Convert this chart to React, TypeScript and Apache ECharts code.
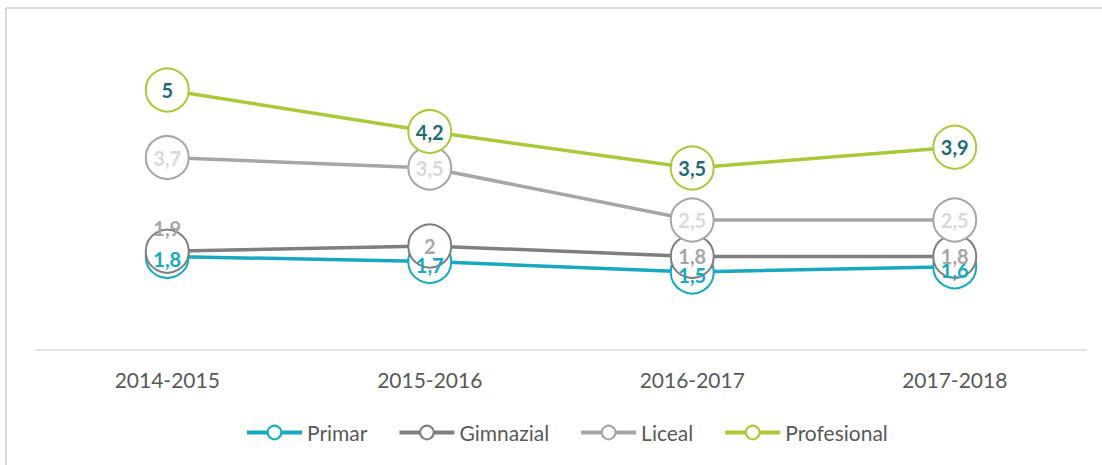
import React, { useEffect, useRef } from "react";
import * as echarts from "echarts";

const categories = ["2014-2015", "2015-2016", "2016-2017", "2017-2018"];
const primar = [1.8, 1.7, 1.5, 1.6];
const gimnazial = [1.9, 2, 1.8, 1.8];
const liceal = [3.7, 3.5, 2.5, 2.5];
const profesional = [5, 4.2, 3.5, 3.9];

const FONT = "Lato, 'Open Sans', sans-serif";

function fmt(v: number) {
  return String(v).replace(".", ",");
}

export default function App() {
  const ref = useRef<HTMLDivElement>(null);
  useEffect(() => {
    const chart = echarts.init(ref.current!, undefined, { renderer: "svg" });
    const line = (name: string, data: number[], color: string, z: number) => ({
      name,
      type: "line",
      z,
      data,
      symbol: "circle",
      symbolSize: 43,
      lineStyle: { color, width: 3.5 },
      itemStyle: { color: "#fff", borderColor: color, borderWidth: 2 },
      label: { show: false },
    });
    const labels = (
      name: string,
      data: number[],
      labelColor: string,
      z: number,
      offsets?: (i: number) => number[] | null
    ) => ({
      name: name + "-labels",
      type: "scatter",
      z,
      silent: true,
      symbolSize: 1,
      itemStyle: { color: "rgba(255,255,255,0)", opacity: 1 },
      data: data.map((v, i) => {
        const d: any = { value: v };
        const o = offsets ? offsets(i) : null;
        if (o) d.label = { offset: o };
        return d;
      }),
      label: {
        show: true,
        position: "inside",
        formatter: (p: any) => fmt(p.value),
        color: labelColor,
        fontFamily: FONT,
        fontWeight: "bold",
        fontSize: 20,
      },
    });
    chart.setOption({
      animation: false,
      backgroundColor: "#fff",
      graphic: [
        { type: "line", shape: { x1: 6, y1: 8, x2: 1102, y2: 8 }, style: { stroke: "#D9D9D9", lineWidth: 2 } },
        { type: "line", shape: { x1: 6, y1: 8, x2: 6, y2: 465 }, style: { stroke: "#D9D9D9", lineWidth: 2 } },
      ],
      grid: { left: 36, right: 16, top: 38, bottom: 115 },
      legend: {
        bottom: 17,
        left: 240,
        itemWidth: 55,
        itemHeight: 17,
        itemGap: 30,
        lineStyle: { width: 4 },
        textStyle: { color: "#595959", fontSize: 21, fontFamily: FONT },
        data: ["Primar", "Gimnazial", "Liceal", "Profesional"],
      },
      xAxis: {
        type: "category",
        data: categories,
        axisLine: { lineStyle: { color: "#D9D9D9", width: 1.5 } },
        axisTick: { show: false },
        axisLabel: { color: "#595959", fontSize: 21, fontFamily: FONT, margin: 19 },
      },
      yAxis: {
        type: "value",
        min: 0,
        max: 6,
        show: false,
        splitLine: { show: false },
      },
      series: [
        line("Primar", primar, "#17A9C1", 2),
        line("Gimnazial", gimnazial, "#7F7F7F", 3),
        line("Liceal", liceal, "#A6A6A6", 4),
        line("Profesional", profesional, "#A9C93A", 5),
        labels("Primar", primar, "#17A9C1", 10, () => [0, 3]),
        labels("Gimnazial", gimnazial, "#A6A6A6", 11, (i) => (i === 0 ? [0, -23] : null)),
        labels("Liceal", liceal, "#D9D9D9", 12),
        labels("Profesional", profesional, "#1F6B75", 13),
      ],
    });
    return () => chart.dispose();
  }, []);
  return (
    <div
      ref={ref}
      style={{ position: "fixed", left: 0, top: 0, width: 1102, height: 465 }}
    />
  );
}
